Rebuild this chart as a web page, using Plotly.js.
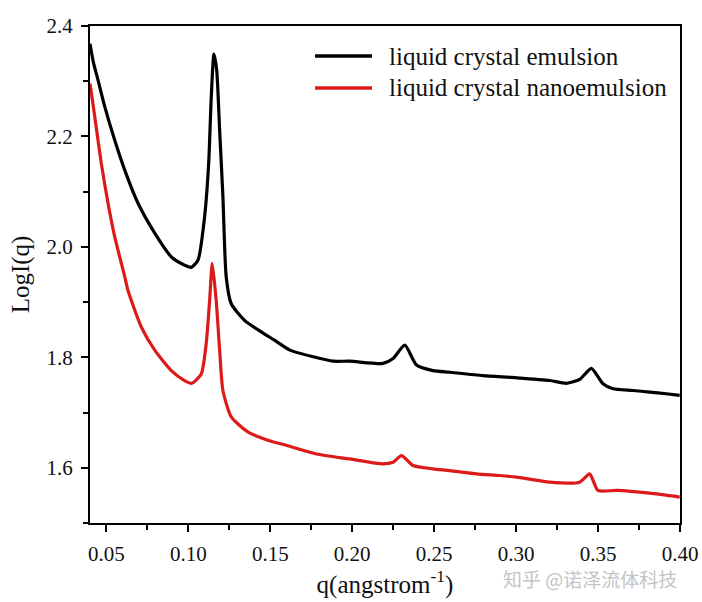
<!DOCTYPE html>
<html>
<head>
<meta charset="utf-8">
<script src="https://cdn.plot.ly/plotly-3.0.1.min.js"></script>
<style>html,body{margin:0;padding:0;background:#fff;}#chart{width:702px;height:602px;}</style>
</head>
<body>
<div id="chart"></div>
<script>
const qEmulsion = [0.0400,0.0420,0.0449,0.0490,0.0551,0.0612,0.0693,0.0795,0.0896,0.0957,0.1018,0.1059,0.1099,0.1124,0.1140,0.1156,0.1173,0.1191,0.1211,0.1231,0.1262,0.1343,0.1445,0.1526,0.1620,0.1762,0.1884,0.1985,0.2188,0.2249,0.2321,0.2392,0.2493,0.2595,0.2798,0.3002,0.3205,0.3307,0.3388,0.3459,0.3530,0.3591,0.3713,0.3815,0.3916,0.3998];
const logIEmulsion = [2.368,2.335,2.302,2.254,2.193,2.139,2.079,2.025,1.982,1.970,1.963,1.976,2.054,2.151,2.272,2.349,2.320,2.211,2.091,1.946,1.897,1.867,1.846,1.831,1.813,1.801,1.793,1.793,1.789,1.798,1.822,1.786,1.776,1.773,1.767,1.763,1.758,1.753,1.760,1.780,1.752,1.743,1.740,1.737,1.734,1.731];
const qNano = [0.0400,0.0429,0.0469,0.0510,0.0551,0.0612,0.0632,0.0713,0.0795,0.0896,0.0977,0.1022,0.1079,0.1109,0.1130,0.1146,0.1170,0.1191,0.1211,0.1262,0.1363,0.1485,0.1607,0.1782,0.1985,0.2188,0.2249,0.2301,0.2371,0.2493,0.2595,0.2758,0.2900,0.3002,0.3205,0.3388,0.3449,0.3499,0.3612,0.3815,0.3998];
const logINano = [2.296,2.236,2.151,2.079,2.018,1.946,1.921,1.855,1.813,1.776,1.758,1.753,1.770,1.825,1.903,1.970,1.903,1.813,1.740,1.692,1.665,1.650,1.640,1.625,1.616,1.607,1.610,1.622,1.604,1.598,1.595,1.589,1.586,1.583,1.574,1.574,1.589,1.559,1.559,1.554,1.547];
const seriesNames = ["liquid crystal emulsion","liquid crystal nanoemulsion"];
const seriesColors = ["#000000","#dd1a1a"];
const xTickVals = [0.05,0.10,0.15,0.20,0.25,0.30,0.35,0.40];
const xTickText = ["0.05","0.10","0.15","0.20","0.25","0.30","0.35","0.40"];
const yTickVals = [1.6,1.8,2.0,2.2,2.4];
const yTickText = ["1.6","1.8","2.0","2.2","2.4"];

const serif = "'Liberation Serif', 'DejaVu Serif', serif";

const traces = [
  {x: qEmulsion, y: logIEmulsion, name: seriesNames[0], mode: "lines", line: {color: seriesColors[0], width: 3.2, shape: "spline", smoothing: 0.6}},
  {x: qNano, y: logINano, name: seriesNames[1], mode: "lines", line: {color: seriesColors[1], width: 3.2, shape: "spline", smoothing: 0.6}}
];

const legendY = [0.9396, 0.8753];
const shapes = [];
const annotations = [];
for (let i = 0; i < seriesNames.length; i++) {
  shapes.push({type: "line", xref: "paper", yref: "paper", x0: 0.3814, x1: 0.478, y0: legendY[i], y1: legendY[i], line: {color: seriesColors[i], width: 3.5}});
  annotations.push({xref: "paper", yref: "paper", x: 0.5034, y: legendY[i], xanchor: "left", yanchor: "middle", text: seriesNames[i], showarrow: false, font: {family: serif, size: 25, color: "#111"}});
}
annotations.push({xref: "paper", yref: "paper", x: 0.847, y: -0.1107, xanchor: "center", yanchor: "middle", text: "知乎 @诺泽流体科技", showarrow: false, font: {family: "'Noto Sans CJK SC'", size: 19, color: "#c4c4c4"}});

const layout = {
  width: 702, height: 602,
  margin: {l: 90, r: 22, t: 26, b: 79},
  paper_bgcolor: "#ffffff", plot_bgcolor: "#ffffff",
  showlegend: false,
  font: {family: serif, color: "#111"},
  xaxis: {
    range: [0.04, 0.40], tickvals: xTickVals, ticktext: xTickText,
    ticks: "outside", ticklen: 7, tickwidth: 2, tickcolor: "#000",
    minor: {tickvals: [0.075,0.125,0.175,0.225,0.275,0.325,0.375], ticks: "outside", ticklen: 5, tickwidth: 2, tickcolor: "#000"},
    showline: true, linewidth: 2, linecolor: "#000", mirror: true,
    showgrid: false, zeroline: false,
    tickfont: {family: serif, size: 21, color: "#111"},
    ticklabelstandoff: 4,
    title: {text: "q(angstrom<sup>-1</sup>)", font: {family: serif, size: 25, color: "#111"}, standoff: 6}
  },
  yaxis: {
    range: [1.5, 2.4], tickvals: yTickVals, ticktext: yTickText,
    ticks: "outside", ticklen: 7, tickwidth: 2, tickcolor: "#000",
    minor: {tickvals: [1.5,1.7,1.9,2.1,2.3], ticks: "outside", ticklen: 5, tickwidth: 2, tickcolor: "#000"},
    showline: true, linewidth: 2, linecolor: "#000", mirror: true,
    showgrid: false, zeroline: false,
    tickfont: {family: serif, size: 21, color: "#111"},
    ticklabelstandoff: 4,
    title: {text: "LogI(q)", font: {family: serif, size: 25, color: "#111"}, standoff: 10}
  },
  shapes: shapes,
  annotations: annotations
};

Plotly.newPlot("chart", traces, layout, {displayModeBar: false, staticPlot: true});
</script>
</body>
</html>
